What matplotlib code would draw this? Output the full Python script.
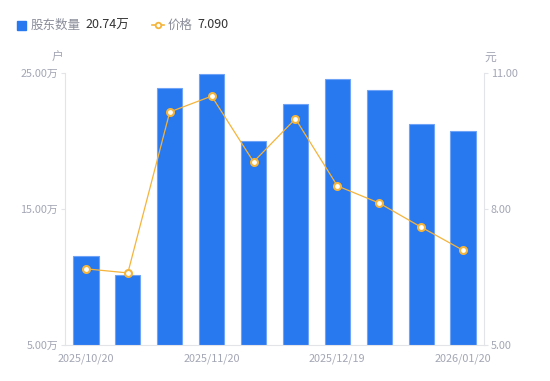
import matplotlib
matplotlib.use("Agg")
import matplotlib.pyplot as plt
from matplotlib.lines import Line2D
from matplotlib.patches import Rectangle

plt.rcParams['font.family'] = ['Noto Sans CJK SC', 'DejaVu Sans']

# data
dates = ["2025/10/20", "", "", "2025/11/20", "", "", "2025/12/19", "", "", "2026/01/20"]
holders = [11.54, 10.15, 23.90, 24.93, 20.00, 22.72, 24.56, 23.75, 21.25, 20.74]  # 万户
price = [6.68, 6.59, 10.14, 10.49, 9.04, 9.99, 8.51, 8.13, 7.60, 7.09]
left_ticks = [5, 15, 25]
right_ticks = [5, 8, 11]

bar_color = "#2878F0"
line_color = "#F5B43A"
tick_color = "#A3A6B4"
axis_color = "#E3E4E8"

fig = plt.figure(figsize=(5.5, 3.81), dpi=100)
ax = fig.add_axes([65 / 550, 1 - 345 / 381, 419 / 550, 272 / 381])
ax2 = ax.twinx()

x = list(range(len(holders)))
ax.bar(x, holders, width=0.6, bottom=0, color=bar_color, edgecolor="#6FA3F5", linewidth=0.8, zorder=2)
ax.set_xlim(-0.5, len(holders) - 0.5)
ax.set_ylim(5, 25)
ax.set_yticks(left_ticks)
ax.set_yticklabels([f"{v:.2f}万" for v in left_ticks])
ax.set_xticks(x)
ax.set_xticklabels(dates)

ax2.plot(x, price, color=line_color, linewidth=0.9, marker="o", markersize=5,
         markerfacecolor="white", markeredgecolor=line_color, markeredgewidth=1.5, zorder=3)
ax2.set_ylim(5, 11)
ax2.set_yticks(right_ticks)
ax2.set_yticklabels([f"{v:.2f}" for v in right_ticks])

for a in (ax, ax2):
    for s in a.spines.values():
        s.set_visible(False)
    a.tick_params(colors=tick_color, labelsize=7.8, length=3, width=0.8)
    a.tick_params(axis="y", color=axis_color)
ax.spines["left"].set_visible(True)
ax.spines["left"].set_color(axis_color)
ax.spines["bottom"].set_visible(True)
ax.spines["bottom"].set_color(axis_color)
ax2.spines["right"].set_visible(True)
ax2.spines["right"].set_color(axis_color)
ax.tick_params(axis="x", length=0, pad=6)
ax.tick_params(axis="y", pad=2)
ax2.tick_params(axis="y", pad=2)

# unit labels
fig.text(58 / 550, 1 - 57 / 381, "户", color=tick_color, fontsize=8.5, ha="center", va="center")
fig.text(490 / 550, 1 - 57 / 381, "元", color=tick_color, fontsize=8.5, ha="center", va="center")

# legend row
fig.patches.append(Rectangle((17 / 550, 1 - 30 / 381), 9 / 550, 9 / 381, transform=fig.transFigure,
                             color=bar_color, figure=fig))
fig.text(31 / 550, 1 - 25 / 381, "股东数量", color="#8A8D99", fontsize=9, va="center")
fig.text(85 / 550, 1 - 25 / 381, f"{holders[-1]:.2f}万", color="#333333", fontsize=9, va="center")
fig.lines.append(Line2D([152 / 550, 164 / 550], [1 - 25 / 381] * 2, transform=fig.transFigure,
                        color=line_color, linewidth=1.2))
fig.lines.append(Line2D([158 / 550], [1 - 25 / 381], transform=fig.transFigure, color=line_color,
                        marker="o", markersize=4, markerfacecolor="white", markeredgewidth=1.3))
fig.text(168 / 550, 1 - 25 / 381, "价格", color="#8A8D99", fontsize=9, va="center")
fig.text(197 / 550, 1 - 25 / 381, f"{price[-1]:.3f}", color="#333333", fontsize=9, va="center")

fig.savefig("out.png", dpi=100)
